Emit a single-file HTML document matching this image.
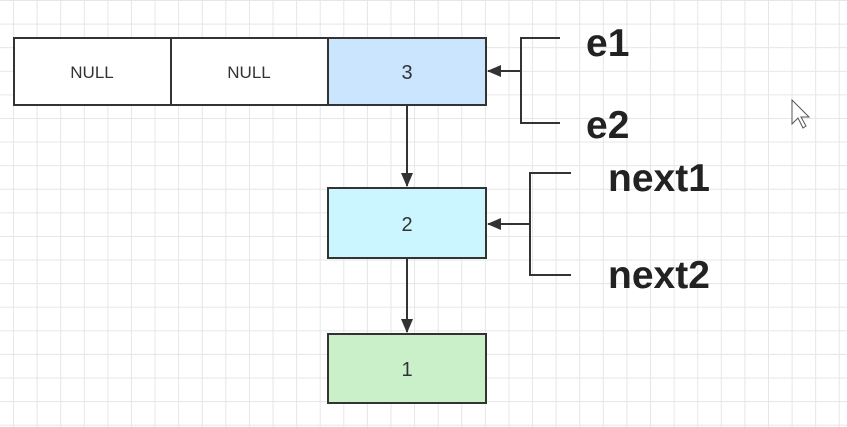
<!DOCTYPE html>
<html><head><style>
body{margin:0;width:847px;height:427px;overflow:hidden;background:#fff;
background-image:linear-gradient(#e6e6e6 1px,transparent 1px),linear-gradient(90deg,#e6e6e6 1px,transparent 1px);
background-size:23.6px 23.6px;background-position:13px 0px;font-family:"Liberation Sans",sans-serif}
</style></head><body>
<svg width="847" height="427" style="position:absolute;left:0;top:0">
<defs><marker id="a" markerWidth="14" markerHeight="14" refX="13" refY="6" orient="auto" markerUnits="userSpaceOnUse"><path d="M0,0 L14,6 L0,12 z" fill="#333"/></marker></defs>
<g stroke="#333" stroke-width="2">
<rect x="14" y="38" width="157" height="67" fill="#fff"/>
<rect x="171" y="38" width="157" height="67" fill="#fff"/>
<rect x="328" y="38" width="158" height="67" fill="#cce5ff"/>
<rect x="328" y="188" width="158" height="70" fill="#ccf6ff"/>
<rect x="328" y="334" width="158" height="69" fill="#c9f0c9"/>
<line x1="407" y1="105" x2="407" y2="186" marker-end="url(#a)"/>
<line x1="407" y1="258" x2="407" y2="332" marker-end="url(#a)"/>
<polyline points="560,38 521,38 521,123 560,123" fill="none"/>
<line x1="521" y1="71" x2="488" y2="71" marker-end="url(#a)"/>
<polyline points="571,173 530,173 530,275 571,275" fill="none"/>
<line x1="530" y1="224" x2="488" y2="224" marker-end="url(#a)"/>
</g>
<g font-size="17" fill="#333" text-anchor="middle" font-family="Liberation Sans,sans-serif">
<text x="92" y="78">NULL</text><text x="249" y="78">NULL</text>
<text x="407" y="79" font-size="20">3</text><text x="407" y="231" font-size="20">2</text><text x="407" y="376" font-size="20">1</text>
</g>
<g font-size="39" font-weight="bold" fill="#222" font-family="Liberation Sans,sans-serif">
<text x="586" y="56">e1</text><text x="586" y="138">e2</text>
<text x="608" y="191">next1</text><text x="608" y="288">next2</text>
</g>
<path d="M792,100 L792,124 L798,118 L803,128 L806,126 L801,117 L809,117 z" fill="#fff" stroke="#555" stroke-width="1"/>
</svg>
</body></html>
